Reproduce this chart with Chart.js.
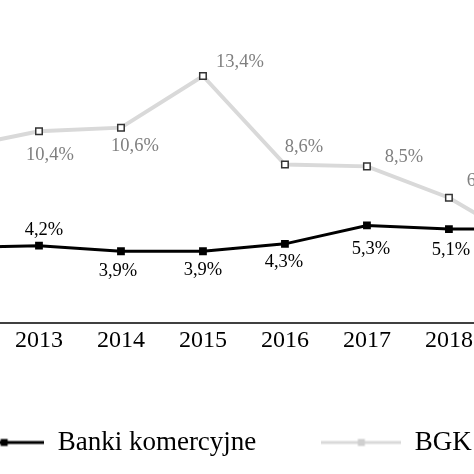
<!DOCTYPE html>
<html>
<head>
<meta charset="utf-8">
<script src="https://cdn.jsdelivr.net/npm/chart.js@4.4.1/dist/chart.umd.min.js"></script>
<style>
  html, body { margin: 0; padding: 0; background: #fff; overflow: hidden; width: 474px; height: 474px; }
  #wrap { position: relative; width: 474px; height: 474px; overflow: hidden; }
  #mycanvas { position: absolute; left: -142px; top: 0; }
</style>
</head>
<body>
<div id="wrap"><canvas id="mycanvas" width="720" height="468"></canvas></div>
<script>
var years = ['2012', '2013', '2014', '2015', '2016', '2017', '2018', '2019'];
var banki = [4.1, 4.2, 3.9, 3.9, 4.3, 5.3, 5.1, 5.1];
var bgk = [9.5, 10.4, 10.6, 13.4, 8.6, 8.5, 6.8, 4.2];
var seriesNames = ['Banki komercyjne', 'BGK'];

// where each value label sits relative to its point (dx, dy)
var bankiLabelPos = [[5, -16], [5, -16], [-3, 20], [0, 19], [-1, 18], [4, 24], [2, 21], [2, 21]];
var bgkLabelPos = [[11, 24], [11, 24], [14, 19], [37, -14], [19, -17], [37, -9], [37, -17], [37, -17]];

function fmt(v) {
  return v.toFixed(1).replace('.', ',') + '%';
}

function legendIcon(lineColor, lineW, boxColor, boxSize) {
  var c = document.createElement('canvas');
  c.width = 80; c.height = 12;
  var g = c.getContext('2d');
  g.strokeStyle = lineColor;
  g.lineWidth = lineW;
  g.beginPath(); g.moveTo(0, 6); g.lineTo(80, 6); g.stroke();
  g.fillStyle = boxColor;
  g.fillRect(40 - boxSize / 2, 6 - boxSize / 2, boxSize, boxSize);
  return c;
}
var icons = [legendIcon('#000', 3, '#000', 7), legendIcon('#d9d9d9', 3, '#cfcfcf', 7)];

var valueLabels = {
  id: 'valueLabels',
  afterDatasetsDraw: function(chart) {
    var ctx = chart.ctx;
    var setups = [
      {pos: bankiLabelPos, color: '#000'},
      {pos: bgkLabelPos, color: '#7f7f7f'}
    ];
    ctx.save();
    ctx.font = '18.5px "Liberation Serif", "Times New Roman", serif';
    ctx.textAlign = 'center';
    ctx.textBaseline = 'middle';
    chart.data.datasets.forEach(function(ds, di) {
      var meta = chart.getDatasetMeta(di);
      ctx.fillStyle = setups[di].color;
      meta.data.forEach(function(pt, i) {
        var p = setups[di].pos[i];
        ctx.fillText(fmt(ds.data[i]), pt.x + p[0], pt.y + p[1]);
      });
    });
    ctx.restore();
  }
};

var chartdata = {
  labels: years,
  datasets: [
    {
      label: seriesNames[0],
      data: banki,
      borderColor: '#000',
      backgroundColor: '#000',
      borderWidth: 3,
      pointStyle: 'rect',
      pointRadius: 5.5,
      pointBorderWidth: 0,
      pointBackgroundColor: '#000',
      tension: 0
    },
    {
      label: seriesNames[1],
      data: bgk,
      borderColor: '#d9d9d9',
      backgroundColor: '#d9d9d9',
      borderWidth: 4,
      pointStyle: 'rect',
      pointRadius: 4.6,
      pointBorderWidth: 1.5,
      pointBorderColor: '#333',
      pointBackgroundColor: '#fff',
      tension: 0
    }
  ]
};

var ctx = document.getElementById('mycanvas');
var lineGraph = new Chart(ctx, {
  type: 'line',
  data: chartdata,
  plugins: [valueLabels],
  options: {
    responsive: false,
    animation: false,
    devicePixelRatio: 1,
    layout: { padding: { top: 28, left: 0, right: 0, bottom: 2 } },
    plugins: {
      tooltip: { enabled: false },
      legend: {
        position: 'bottom',
        labels: {
          usePointStyle: true,
          pointStyleWidth: 80,
          padding: 65,
          color: '#000',
          font: { family: '"Liberation Serif", "Times New Roman", serif', size: 27 },
          generateLabels: function(chart) {
            return chart.data.datasets.map(function(ds, i) {
              return {
                text: ds.label,
                pointStyle: icons[i],
                fillStyle: 'transparent',
                strokeStyle: 'transparent',
                lineWidth: 0,
                fontColor: '#000',
                hidden: false,
                datasetIndex: i
              };
            });
          }
        }
      }
    },
    scales: {
      x: {
        offset: true,
        grid: { display: false, drawTicks: false },
        border: { display: true, color: '#404040', width: 2 },
        ticks: {
          color: '#000',
          padding: 3,
          font: { family: '"Liberation Serif", "Times New Roman", serif', size: 24 }
        },
        afterFit: function(scale) { scale.height += 6; }
      },
      y: {
        min: 0,
        max: 16,
        grid: { display: false, drawTicks: false },
        border: { display: false },
        ticks: { display: false },
        // blank space left of the plot: the picture is cut from a wider chart
        afterFit: function(scale) { scale.width = 58; }
      }
    }
  }
});
</script>
</body>
</html>
